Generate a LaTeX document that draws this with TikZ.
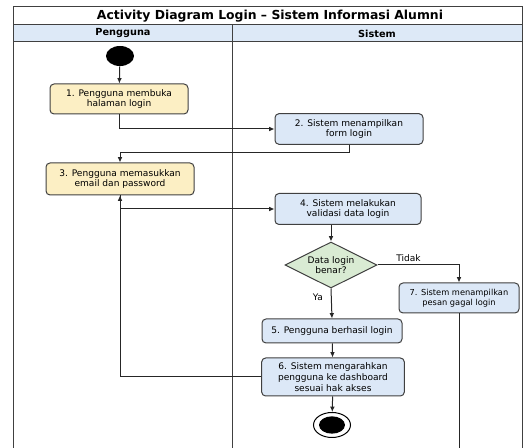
\documentclass[tikz,border=0pt]{standalone}
\usepackage{fontspec}
\setmainfont{DejaVu Sans}
\usetikzlibrary{shapes.geometric,arrows.meta}
\definecolor{usrfill}{HTML}{FCEFC4}
\definecolor{sysfill}{HTML}{DCE8F7}
\definecolor{decfill}{HTML}{D9EBD3}
\definecolor{hdrfill}{HTML}{DDE9F7}
\definecolor{edge}{HTML}{404040}
\begin{document}
\begin{tikzpicture}[x=0.75pt, y=-0.75pt, line width=0.75pt,
  font=\fontsize{6.8}{8}\selectfont,
  act/.style={draw=edge, rounded corners=3pt, align=center, inner sep=0pt},
  usr/.style={act, fill=usrfill},
  sys/.style={act, fill=sysfill},
  flow/.style={draw=black!85, -{Latex[length=4pt,width=3.5pt]}}]
\useasboundingbox (0,0) rectangle (526,448);
% swimlanes
\fill[hdrfill] (13,25) rectangle (522,42);
\draw[edge] (13,449) -- (13,7) -- (522,7) -- (522,449);
\draw[edge] (13,25) -- (522,25);
\draw[edge] (13,42) -- (522,42);
\draw[edge] (232,25) -- (232,449);
\node[font=\fontsize{9.3}{11}\selectfont\bfseries] (T) at (270,16) {Activity Diagram Login – Sistem Informasi Alumni};
\node[font=\fontsize{7.3}{8}\selectfont\bfseries] (H_1) at (123,33.5) {Pengguna};
\node[font=\fontsize{7.3}{8}\selectfont\bfseries] (H_2) at (377,33.5) {Sistem};
\node[ellipse, fill=black, minimum width=21pt, minimum height=15pt, inner sep=0pt] (S) at (120,56) {};
\node[usr, minimum width=103.5pt, minimum height=22.5pt] (A_1) at (119,99) {1. Pengguna membuka\\halaman login};
\node[sys, minimum width=111pt, minimum height=23pt] (A_2) at (349,129) {2. Sistem menampilkan\\form login};
\node[usr, minimum width=111pt, minimum height=24pt] (A_3) at (120,179) {3. Pengguna memasukkan\\email dan password};
\node[sys, minimum width=109.5pt, minimum height=23.25pt] (A_4) at (348,209) {4. Sistem melakukan\\validasi data login};
\node[diamond, aspect=2.2, draw=edge, fill=decfill, align=center, inner sep=0pt, minimum width=69pt, minimum height=34.5pt] (D) at (331,265) {Data login\\benar?};
\node[sys, minimum width=105pt, minimum height=18pt] (A_5) at (332,331) {5. Pengguna berhasil login};
\node[sys, minimum width=107pt, minimum height=28.5pt] (A_6) at (333,377) {6. Sistem mengarahkan\\pengguna ke dashboard\\sesuai hak akses};
\node[sys, minimum width=90pt, minimum height=22.5pt, font=\fontsize{6.2}{7.6}\selectfont] (A_7) at (459,298) {7. Sistem menampilkan\\pesan gagal login};
\node[ellipse, draw=black, minimum width=27.75pt, minimum height=18.75pt, inner sep=0pt] (E) at (332,425) {};
\node[ellipse, fill=black, minimum width=19.5pt, minimum height=13pt, inner sep=0pt] (E_0) at (E) {};
\coordinate (K_1) at (349,153);
\coordinate (K_2) at (459,449);
\draw[flow] (S) -- (A_1);
\draw[flow] (A_1.south) |- (A_2.west);
\draw[flow] (A_2.south) -- (K_1) -| (A_3.north);
\draw[flow] (A_3.south) |- (A_4.west);
\draw[flow] (A_6.west) -| (A_3.south);
\draw[flow] (A_4.south -| D.north) -- (D.north);
\draw[flow] (D.south) -- (A_5.north) node[pos=0.3, left, inner sep=6pt] {Ya};
\draw[flow] (D.east) -| (A_7.north) node[pos=0.19, above, inner sep=2pt] {Tidak};
\draw[flow] (A_5) -- (A_6);
\draw[flow] (A_6) -- (E);
\draw[draw=black!85] (A_7.south) -- (K_2);
\end{tikzpicture}
\end{document}
